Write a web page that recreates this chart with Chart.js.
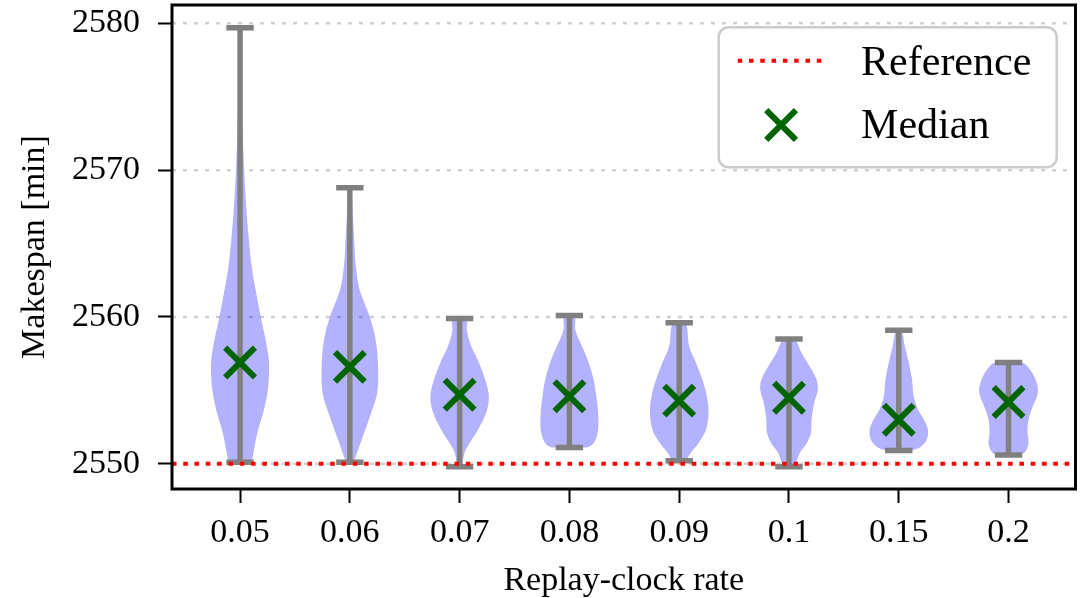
<!DOCTYPE html>
<html>
<head>
<meta charset="utf-8">
<script src="https://cdn.jsdelivr.net/npm/chart.js@4.4.0/dist/chart.umd.min.js"></script>
<style>
  html, body { margin: 0; padding: 0; background: #fff; }
  #wrap { width: 1084px; height: 598px; }
</style>
</head>
<body>
<div id="wrap"><canvas id="violinChart"></canvas></div>
<script>
const rates = ['0.05', '0.06', '0.07', '0.08', '0.09', '0.1', '0.15', '0.2'];
const medians = [2556.9, 2556.6, 2554.7, 2554.6, 2554.3, 2554.5, 2553.0, 2554.2];
const minima = [2550.1, 2550.1, 2549.8, 2551.1, 2550.2, 2549.8, 2550.9, 2550.6];
const maxima = [2579.7, 2568.8, 2559.9, 2560.1, 2559.6, 2558.5, 2559.1, 2556.9];
const referenceMakespan = 2550;
const yTicks = [2550, 2560, 2570, 2580];

// violin outlines, bottom to top: [makespan, half width in category units]
const violinShapes = [
  [[2550.1, 0.106], [2550.7, 0.121], [2552.1, 0.157], [2553.7, 0.218], [2555.2, 0.255], [2556.9, 0.264],
   [2558.4, 0.234], [2560.0, 0.188], [2561.8, 0.143], [2563.4, 0.106], [2565.7, 0.075], [2568.0, 0.052],
   [2570.2, 0.036], [2574.1, 0.018], [2579.7, 0.004]],
  [[2550.1, 0.036], [2550.3, 0.045], [2551.6, 0.106], [2553.2, 0.182], [2554.8, 0.248], [2556.6, 0.257],
   [2558.4, 0.236], [2560.0, 0.182], [2561.8, 0.091], [2563.4, 0.055], [2565.7, 0.036], [2568.8, 0.009]],
  [[2549.8, 0.024], [2550.75, 0.045], [2551.4, 0.091], [2552.3, 0.166], [2553.5, 0.243], [2554.6, 0.266],
   [2555.7, 0.234], [2556.9, 0.175], [2558.0, 0.106], [2559.1, 0.066], [2559.9, 0.061]],
  [[2551.1, 0.16], [2551.4, 0.221], [2552.3, 0.261], [2553.5, 0.261], [2554.6, 0.245], [2555.7, 0.221],
   [2556.9, 0.175], [2558.0, 0.115], [2559.1, 0.055], [2560.1, 0.045]],
  [[2550.2, 0.061], [2550.75, 0.106], [2551.4, 0.175], [2552.3, 0.243], [2553.5, 0.267], [2554.6, 0.252],
   [2555.7, 0.212], [2556.9, 0.152], [2558.0, 0.091], [2559.6, 0.055]],
  [[2549.8, 0.055], [2550.75, 0.1], [2551.4, 0.161], [2552.1, 0.2], [2553.0, 0.206], [2554.15, 0.23],
   [2555.0, 0.261], [2555.7, 0.252], [2556.6, 0.191], [2557.55, 0.115], [2558.5, 0.048]],
  [[2550.9, 0.115], [2551.1, 0.191], [2551.6, 0.252], [2552.3, 0.266], [2553.0, 0.23], [2553.7, 0.175],
   [2554.6, 0.136], [2555.7, 0.121], [2556.9, 0.091], [2558.0, 0.055], [2559.1, 0.024]],
  [[2550.6, 0.106], [2550.8, 0.152], [2551.4, 0.182], [2552.1, 0.173], [2553.0, 0.182], [2553.9, 0.221],
   [2554.8, 0.266], [2555.5, 0.257], [2556.4, 0.197], [2556.9, 0.121]]
];

const xMin = -0.62;
const xMax = 7.61;

Chart.defaults.font.family = '"Liberation Serif", "Times New Roman", serif';
Chart.defaults.color = '#000';

const violinSets = violinShapes.map((shape, i) => {
  const right = shape.map(p => ({ x: i + p[1], y: p[0] }));
  const left = shape.slice().reverse().map(p => ({ x: i - p[1], y: p[0] }));
  return {
    label: 'violin ' + rates[i],
    data: right.concat(left),
    showLine: true,
    fill: 'shape',
    backgroundColor: 'rgba(0, 0, 255, 0.3)',
    borderColor: 'rgba(0, 0, 0, 0)',
    borderWidth: 0,
    pointRadius: 0,
    tension: 0.35
  };
});

const whiskerPoints = [];
rates.forEach((r, i) => {
  whiskerPoints.push({ x: i, y: minima[i] }, { x: i, y: maxima[i] }, { x: i, y: null });
});

const capPoints = minima.map((v, i) => ({ x: i, y: v }))
  .concat(maxima.map((v, i) => ({ x: i, y: v })));

const datasets = [
  {
    label: 'Reference',
    data: [{ x: xMin, y: referenceMakespan }, { x: xMax, y: referenceMakespan }],
    showLine: true,
    borderColor: '#ff0000',
    borderWidth: 4,
    borderDash: [4.5, 6.8],
    pointRadius: 0
  },
  {
    label: 'Median',
    data: medians.map((v, i) => ({ x: i, y: v })),
    pointStyle: 'crossRot',
    pointRadius: 21,
    pointBorderWidth: 6,
    pointBorderColor: '#006400',
    pointBackgroundColor: '#006400'
  },
  {
    label: 'caps',
    data: capPoints,
    pointStyle: 'line',
    pointRadius: 13.7,
    pointBorderWidth: 5.5,
    pointBorderColor: '#808080'
  },
  {
    label: 'whiskers',
    data: whiskerPoints,
    showLine: true,
    spanGaps: false,
    borderColor: '#808080',
    borderWidth: 5.5,
    pointRadius: 0
  }
].concat(violinSets);

// dotted horizontal grid, under the violins
const gridLines = {
  id: 'gridLines',
  beforeDatasetsDraw(chart) {
    const { ctx, chartArea, scales } = chart;
    ctx.save();
    ctx.strokeStyle = '#d0d0d0';
    ctx.lineWidth = 2.5;
    ctx.setLineDash([4, 7]);
    yTicks.forEach(v => {
      const y = scales.y.getPixelForValue(v);
      ctx.beginPath();
      ctx.moveTo(chartArea.left, y);
      ctx.lineTo(chartArea.right, y);
      ctx.stroke();
    });
    ctx.restore();
  }
};

const frameAndLegend = {
  id: 'frameAndLegend',
  afterDraw(chart) {
    const { ctx, chartArea } = chart;
    ctx.save();
    ctx.strokeStyle = '#000';
    ctx.lineWidth = 3;
    ctx.strokeRect(chartArea.left, chartArea.top, chartArea.right - chartArea.left, chartArea.bottom - chartArea.top);

    const w = 338, h = 140;
    const left = chartArea.right - 18.8 - w;
    const top = chartArea.top + 22.3;
    ctx.beginPath();
    ctx.roundRect(left, top, w, h, 10);
    ctx.fillStyle = 'rgba(255, 255, 255, 0.8)';
    ctx.fill();
    ctx.lineWidth = 2.5;
    ctx.strokeStyle = '#cccccc';
    ctx.stroke();

    const ref = chart.data.datasets[0];
    const med = chart.data.datasets[1];
    ctx.setLineDash(ref.borderDash);
    ctx.lineWidth = ref.borderWidth;
    ctx.strokeStyle = ref.borderColor;
    ctx.beginPath();
    ctx.moveTo(left + 19, top + 33.4);
    ctx.lineTo(left + 106, top + 33.4);
    ctx.stroke();
    ctx.setLineDash([]);

    const cx = left + 62.4, cy = top + 97.7, d = med.pointRadius * Math.SQRT1_2;
    ctx.lineWidth = med.pointBorderWidth;
    ctx.strokeStyle = med.pointBorderColor;
    ctx.beginPath();
    ctx.moveTo(cx - d, cy - d); ctx.lineTo(cx + d, cy + d);
    ctx.moveTo(cx - d, cy + d); ctx.lineTo(cx + d, cy - d);
    ctx.stroke();

    ctx.fillStyle = '#000';
    ctx.font = '42px "Liberation Serif", "Times New Roman", serif';
    ctx.textBaseline = 'alphabetic';
    ctx.textAlign = 'left';
    ctx.fillText(ref.label, left + 142.4, top + 47.7);
    ctx.fillText(med.label, left + 142.4, top + 111);
    ctx.restore();
  }
};

const ctx = document.getElementById('violinChart').getContext('2d');
const violinChart = new Chart(ctx, {
  type: 'scatter',
  data: { datasets: datasets },
  options: {
    responsive: true,
    maintainAspectRatio: false,
    animation: false,
    layout: { autoPadding: false, padding: { top: 5, right: 8.5, left: 0, bottom: 0 } },
    plugins: { legend: { display: false }, tooltip: { enabled: false } },
    scales: {
      x: {
        type: 'linear',
        min: xMin,
        max: xMax,
        afterBuildTicks: scale => { scale.ticks = rates.map((r, i) => ({ value: i })); },
        afterFit: scale => { scale.height = 109; scale.paddingLeft = 0; scale.paddingRight = 0; },
        ticks: {
          callback: v => rates[v],
          font: { size: 34 },
          color: '#000',
          padding: 10,
          maxRotation: 0,
          autoSkip: false
        },
        grid: { drawOnChartArea: false, tickLength: 14, tickWidth: 2, tickColor: '#000' },
        border: { display: false },
        title: {
          display: true,
          text: 'Replay-clock rate',
          font: { size: 34, lineHeight: 1.0 },
          color: '#000',
          padding: { top: 0, bottom: 0 }
        }
      },
      y: {
        min: 2548.28,
        max: 2581.25,
        afterBuildTicks: scale => { scale.ticks = yTicks.map(v => ({ value: v })); },
        afterFit: scale => { scale.width = 172; scale.paddingTop = 0; scale.paddingBottom = 0; },
        ticks: { callback: v => String(v), font: { size: 34 }, color: '#000', padding: 18 },
        grid: { drawOnChartArea: false, tickLength: 14, tickWidth: 2, tickColor: '#000' },
        border: { display: false },
        title: {
          display: true,
          text: 'Makespan [min]',
          font: { size: 34, lineHeight: 1.2 },
          color: '#000',
          padding: { top: 14.5, bottom: 0 }
        }
      }
    }
  },
  plugins: [gridLines, frameAndLegend]
});
</script>
</body>
</html>
